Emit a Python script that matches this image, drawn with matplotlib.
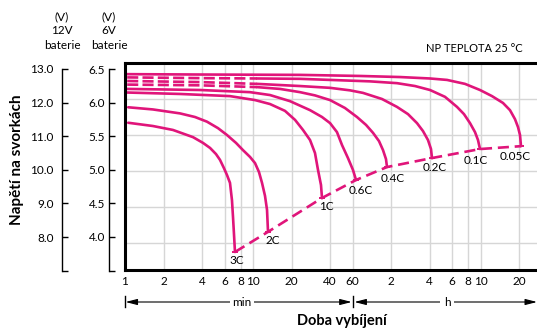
import matplotlib.pyplot as plt
from matplotlib.transforms import blended_transform_factory

plt.rcParams['font.family'] = ['Lato', 'DejaVu Sans']

# discharge curves, time in minutes, voltage for the 12V battery
rates = ["3C", "2C", "1C", "0.6C", "0.4C", "0.2C", "0.1C", "0.05C"]

t_3c = [1.06, 1.65, 2.37, 3.40, 4.07, 4.62, 5.14, 5.52, 5.93, 6.26, 6.61, 6.85, 6.98, 7.11, 7.23]
v_3c = [11.34, 11.25, 11.14, 10.94, 10.78, 10.64, 10.47, 10.31, 10.08, 9.89, 9.67, 9.19, 8.72, 8.22, 7.75]

t_2c = [1.06, 1.65, 2.69, 3.52, 4.37, 5.33, 6.26, 7.37, 8.35, 9.48, 10.37, 11.14, 11.76, 12.41, 12.87, 13.10]
v_2c = [11.77, 11.71, 11.60, 11.50, 11.37, 11.19, 11.00, 10.78, 10.58, 10.39, 10.22, 9.97, 9.67, 9.31, 8.92, 8.31]

t_1c = [1.04, 2.69, 6.61, 10.37, 13.58, 17.78, 21.3, 24.58, 27.9, 30.5, 32.2, 33.98, 34.6]
v_1c = [12.18, 12.14, 12.08, 11.97, 11.86, 11.67, 11.42, 11.14, 10.86, 10.50, 10.03, 9.61, 9.25]

t_06c = [1.04, 3.85, 9.48, 13.58, 19.46, 27.9, 34.6, 40.0, 45.3, 49.6, 55.2, 60.4, 63.8]
v_06c = [12.28, 12.25, 12.19, 12.11, 11.94, 11.69, 11.50, 11.33, 11.08, 10.72, 10.36, 10.03, 9.75]

t_04c = [1.04, 3.85, 10.75, 16.25, 23.3, 30.5, 40.0, 52.3, 64.9, 76.4, 86.6, 96.5, 103.7, 109.4, 111.4]
v_04c = [12.40, 12.38, 12.33, 12.28, 12.19, 12.10, 11.97, 11.75, 11.50, 11.28, 11.06, 10.83, 10.58, 10.33, 10.11]

t_02c = [1.04, 3.85, 10.75, 23.3, 40.0, 57.3, 72.3, 101.8, 133.4, 162.5, 191.1, 212.8, 232.9, 245.8, 250.3]
v_02c = [12.50, 12.47, 12.42, 12.36, 12.31, 12.24, 12.17, 12.00, 11.78, 11.58, 11.33, 11.11, 10.86, 10.61, 10.36]

t_01c = [1.04, 3.85, 10.75, 23.3, 40.0, 82.1, 133.4, 184.4, 241.5, 316.2, 392.6, 445.0, 495.9, 542.6, 572.6, 593.6]
v_01c = [12.60, 12.58, 12.57, 12.56, 12.53, 12.49, 12.44, 12.36, 12.25, 12.06, 11.78, 11.58, 11.33, 11.08, 10.86, 10.61]

t_005c = [1.04, 3.85, 23.3, 68.5, 140.7, 241.5, 327.8, 453.2, 593.6, 736.6, 897.6, 1018, 1114, 1176, 1219, 1241]
v_005c = [12.69, 12.68, 12.67, 12.64, 12.61, 12.57, 12.53, 12.42, 12.25, 12.08, 11.89, 11.69, 11.44, 11.22, 11.00, 10.69]

curves = [(t_3c, v_3c), (t_2c, v_2c), (t_1c, v_1c), (t_06c, v_06c),
          (t_04c, v_04c), (t_02c, v_02c), (t_01c, v_01c), (t_005c, v_005c)]
dashed_start = ["0.4C", "0.2C", "0.1C"]   # curves drawn broken at the start
dash_until = 10.75

xtick_vals = [1, 2, 4, 6, 8, 10, 20, 40, 60, 120, 240, 360, 480, 600, 1200]
xtick_labels = ['1', '2', '4', '6', '8', '10', '20', '40', '60', '2', '4', '6', '8', '10', '20']
ygrid = [8, 9, 10, 11, 12]
y12_ticks = [8.0, 9.0, 10.0, 11.0, 12.0, 13.0]
y6_ticks = [4.0, 4.5, 5.0, 5.5, 6.0, 6.5]

# label offsets in pixels from the end of each curve
label_off = [(2, -9), (5, -9), (4, -9), (5, -10), (6, -11), (3, -9), (-4, -11), (-6, -10)]

pink = '#e0157a'
W, H = 537, 329

fig = plt.figure(figsize=(W / 100, H / 100), dpi=100)
ax = fig.add_axes([125 / W, 1 - 270 / H, 412 / W, 207 / H])
ax.set_xscale('log')
ax.set_xlim(1, 1655)
ax.set_ylim(7.25, 13.0)

for name, (t, v) in zip(rates, curves):
    if name in dashed_start:
        k = t.index(dash_until)
        ax.plot(t[:k + 1], v[:k + 1], color=pink, lw=1.9, dashes=[4.2, 1.6],
                solid_capstyle='butt', dash_capstyle='butt')
        ax.plot(t[k:], v[k:], color=pink, lw=1.9, solid_capstyle='round')
    else:
        ax.plot(t, v, color=pink, lw=1.9, solid_capstyle='round')

t_end = [c[0][-1] for c in curves]
v_end = [c[1][-1] for c in curves]
ax.plot(t_end, v_end, color=pink, lw=1.9, dashes=[4.2, 2.2])
ax.plot(t_end, v_end, ls='none', marker='_', ms=5, mew=1.4, color=pink)

for name, te, ve, off in zip(rates, t_end, v_end, label_off):
    ax.annotate(name, xy=(te, ve), xytext=off, textcoords='offset pixels',
                ha='center', va='center', fontsize=8.5)

ax.set_xticks(xtick_vals, xtick_labels)
ax.minorticks_off()
ax.set_yticks(ygrid, [])
ax.tick_params(axis='both', length=0, labelsize=8.5)
ax.tick_params(axis='x', pad=4)
ax.grid(True, color='#d6d6d6', lw=1.0)
ax.set_axisbelow(True)
ax.spines['right'].set_visible(False)
for s in ['top', 'left', 'bottom']:
    ax.spines[s].set_linewidth(2.2)

# min / h arrows under the axis
tr = blended_transform_factory(ax.transData, ax.transAxes)
ya = (270 - 302) / 207
for xb in [1, 60]:
    ax.plot([xb, xb], [ya + 0.03, ya - 0.025], transform=tr, clip_on=False, color='k', lw=1.0)
arrow = dict(arrowstyle='<|-|>,head_length=0.7,head_width=0.18', color='k', lw=0.8,
             mutation_scale=10, shrinkA=0, shrinkB=0)
ax.annotate('', xy=(1.01, ya), xytext=(59, ya), xycoords=tr, textcoords=tr, arrowprops=arrow)
ax.annotate('', xy=(62, ya), xytext=(1655, ya), xycoords=tr, textcoords=tr, arrowprops=arrow)
ax.text(8.2, ya, 'min', transform=tr, ha='center', va='center', fontsize=8.5,
        bbox=dict(fc='white', ec='none', pad=1.5))
ax.text(328, ya, 'h', transform=tr, ha='center', va='center', fontsize=8.5,
        bbox=dict(fc='white', ec='none', pad=2.5))

fig.text(342 / W, 1 - 321 / H, 'Doba vybíjení', ha='center', va='center',
         fontsize=10.5, fontweight='bold')
fig.text(17 / W, 1 - 160 / H, 'Napětí na svorkách', ha='center', va='center',
         rotation=90, fontsize=11, fontweight='bold')
fig.text(523 / W, 1 - 48 / H, 'NP TEPLOTA 25 °C', ha='right', va='center', fontsize=8)

# separate voltage scales for the 12V and 6V battery
for xs, lim, ticks, hdr, pad in [(62, (6.99, 13.0), y12_ticks, '(V)\n12V\nbaterie', 6),
                                 (109, (3.494, 6.5), y6_ticks, '(V)\n6V\nbaterie', 3)]:
    a = fig.add_axes([xs / W, 1 - 271 / H, 0.0001, 202 / H])
    a.set_ylim(*lim)
    a.patch.set_visible(False)
    for s in ['top', 'right', 'bottom']:
        a.spines[s].set_visible(False)
    a.spines['left'].set_linewidth(1.0)
    a.set_xticks([])
    a.set_yticks(ticks + [lim[0]], ['%.1f' % v for v in ticks] + [''])
    a.tick_params(axis='y', direction='in', length=4, width=1.0, labelsize=8.5, pad=pad)
    fig.text(xs / W, 1 - 31 / H, hdr, ha='center', va='center', fontsize=8.5,
             linespacing=1.4)

fig.savefig('out.png', dpi=100)
